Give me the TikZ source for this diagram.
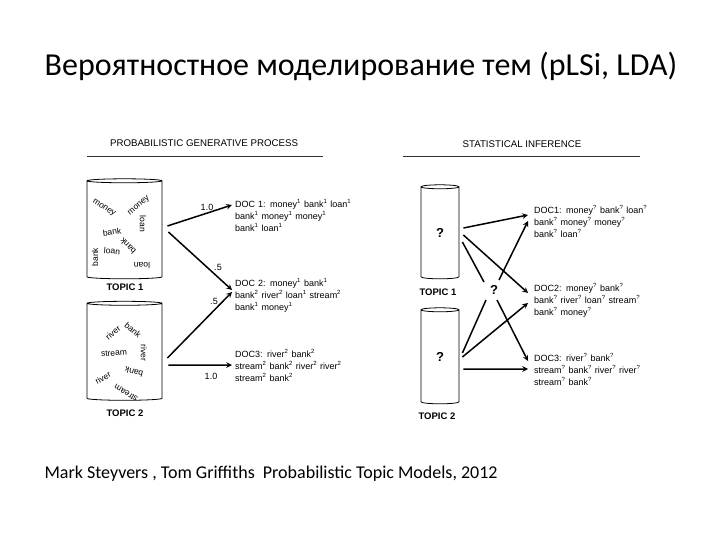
\documentclass[tikz,border=0pt]{standalone}
\usepackage{fontspec}
\setmainfont{Carlito}
\newfontfamily\arialf{Liberation Sans}
\usetikzlibrary{arrows,shapes.geometric}
\newcommand{\tok}[2]{#1\textsuperscript{#2}}
\newcommand{\docline}[1]{\makebox[121pt][s]{#1}}
\tikzstyle{arrow} = [line width=1.5pt, ->, >=stealth]
\tikzstyle{link} = [line width=1.5pt]
\tikzstyle{rule} = [line width=0.8pt, black!80]
\tikzstyle{topic} = [cylinder, shape border rotate=90, draw, line width=0.8pt, inner sep=0, aspect=0.5, font=\arialf\bfseries\fontsize{13}{13}\selectfont]
\tikzstyle{tlabel} = [inner sep=0, font=\arialf\bfseries\fontsize{9.5}{10}\selectfont]
\tikzstyle{word} = [inner sep=0, font=\arialf\fontsize{8.5}{9}\selectfont]
\tikzstyle{doc} = [anchor=north west, inner sep=0, text width=121pt, align=left, font=\arialf\fontsize{9}{12}\selectfont]
\tikzstyle{hdr} = [inner sep=0, font=\arialf\fontsize{9.7}{10}\selectfont]
\tikzstyle{alabel} = [inner sep=0, font=\arialf\fontsize{9}{9}\selectfont]

\begin{document}
\begin{tikzpicture}[x=1pt,y=-1pt]
    \useasboundingbox (0,0) rectangle (720,540);
    \node (title) [anchor=base, font=\fontsize{32}{38}\selectfont] at (361,76)
        {Вероятностное моделирование тем (pLSi, LDA)};
    \node (credit) [anchor=base west, font=\fontsize{18}{20}\selectfont] at (41,478)
        {Mark Steyvers , Tom Griffiths\ \ Probabilistic Topic Models, 2012};
    \node (hdrL) [hdr] at (204,143) {PROBABILISTIC GENERATIVE PROCESS};
    \node (hdrR) [hdr] at (522,144) {STATISTICAL INFERENCE};
    \draw[rule] (87,156) -- (323,156);
    \draw[rule] (403,156) -- (640,156);
    \node (t1L) [topic, minimum width=75, minimum height=100] at (124.5,230) {\phantom{?}};
    \node (t2L) [topic, minimum width=75, minimum height=99] at (124.5,352) {\phantom{?}};
    \node (lt1L) [tlabel] at (125,287) {TOPIC 1};
    \node (lt2L) [tlabel] at (125,413) {TOPIC 2};
    \foreach \x/\y/\r/\t [count=\i] in {104/208/-32/money, 139/206/40/money,
        143/224/-90/loan, 112/232/8/bank, 112/251/-5/loan, 128/246/135/bank,
        95/257/90/bank, 142/266/180/loan}{
        \node (wa\i) [word, rotate=\r] at (\x,\y) {\t};
    }
    \foreach \x/\y/\r/\t [count=\i] in {113/333/40/river, 133/330/-40/bank,
        144/353/-90/river, 114/353/5/stream, 103/378/30/river,
        134/372/165/bank, 126/393/148/stream}{
        \node (wb\i) [word, rotate=\r] at (\x,\y) {\t};
    }
    \node (d1L) [doc] at (235,199)
        {\docline{DOC 1: \tok{money}{1} \tok{bank}{1} \tok{loan}{1}}\\
         \docline{\tok{bank}{1} \tok{money}{1} \tok{money}{1}}\\
         \tok{bank}{1} \tok{loan}{1}};
    \node (d2L) [doc] at (235,278)
        {\docline{DOC 2: \tok{money}{1} \tok{bank}{1}}\\
         \docline{\tok{bank}{2} \tok{river}{2} \tok{loan}{1} \tok{stream}{2}}\\
         \tok{bank}{1} \tok{money}{1}};
    \node (d3L) [doc] at (235,349)
        {\docline{DOC3: \tok{river}{2} \tok{bank}{2}}\\
         \docline{\tok{stream}{2} \tok{bank}{2} \tok{river}{2} \tok{river}{2}}\\
         \tok{stream}{2} \tok{bank}{2}};
    \node (la1) [alabel] at (207,207) {1.0};
    \node (la2) [alabel] at (218,267) {.5};
    \node (la3) [alabel] at (214,301) {.5};
    \node (la4) [alabel] at (211,376) {1.0};
    \draw[arrow] ([shift={(5,-4)}]t1L.east) -- ([shift={(-3,6)}]d1L.north west);
    \draw[arrow] ([shift={(6,2)}]t1L.east) -- ([shift={(-3,12)}]d2L.north west);
    \draw[arrow] ([shift={(5,6)}]t2L.east) -- ([shift={(-3,14)}]d2L.north west);
    \draw[arrow] ([shift={(6,13)}]t2L.east) -- ([shift={(-3,16)}]d3L.north west);
    \node (t1R) [topic, minimum width=38, minimum height=94] at (440,233) {?};
    \node (t2R) [topic, minimum width=38, minimum height=96] at (440,357) {?};
    \node (lt1R) [tlabel] at (438,292) {TOPIC 1};
    \node (lt2R) [tlabel] at (437,416) {TOPIC 2};
    \node (qm) [inner sep=0, font=\arialf\bfseries\fontsize{13}{13}\selectfont] at (494,290) {?};
    \node (d1R) [doc] at (534,205)
        {\docline{DOC1: \tok{money}{?} \tok{bank}{?} \tok{loan}{?}}\\
         \docline{\tok{bank}{?} \tok{money}{?} \tok{money}{?}}\\
         \tok{bank}{?} \tok{loan}{?}};
    \node (d2R) [doc] at (534,283)
        {\docline{DOC2: \tok{money}{?} \tok{bank}{?}}\\
         \docline{\tok{bank}{?} \tok{river}{?} \tok{loan}{?} \tok{stream}{?}}\\
         \tok{bank}{?} \tok{money}{?}};
    \node (d3R) [doc] at (534,353)
        {\docline{DOC3: \tok{river}{?} \tok{bank}{?}}\\
         \docline{\tok{stream}{?} \tok{bank}{?} \tok{river}{?} \tok{river}{?}}\\
         \tok{stream}{?} \tok{bank}{?}};
    \draw[arrow] ([shift={(4,-5)}]t1R.east) -- ([shift={(-6,10)}]d1R.north west);
    \draw[arrow] ([shift={(5,-10)}]qm.center) -- ([shift={(-6,16)}]d1R.north west);
    \draw[arrow] ([shift={(4,2)}]t1R.east) -- ([shift={(-6,10)}]d2R.north west);
    \draw[link] ([shift={(3,9)}]t1R.east) -- ([shift={(-10,-8)}]qm.center);
    \draw[link] ([shift={(-8,10)}]qm.center) -- ([shift={(3,-4)}]t2R.east);
    \draw[arrow] ([shift={(3,10)}]qm.center) -- ([shift={(-6,8)}]d3R.north west);
    \draw[arrow] ([shift={(3,0)}]t2R.east) -- ([shift={(-6,20)}]d2R.north west);
    \draw[arrow] ([shift={(4,12)}]t2R.east) -- ([shift={(-6,16)}]d3R.north west);
\end{tikzpicture}
\end{document}
